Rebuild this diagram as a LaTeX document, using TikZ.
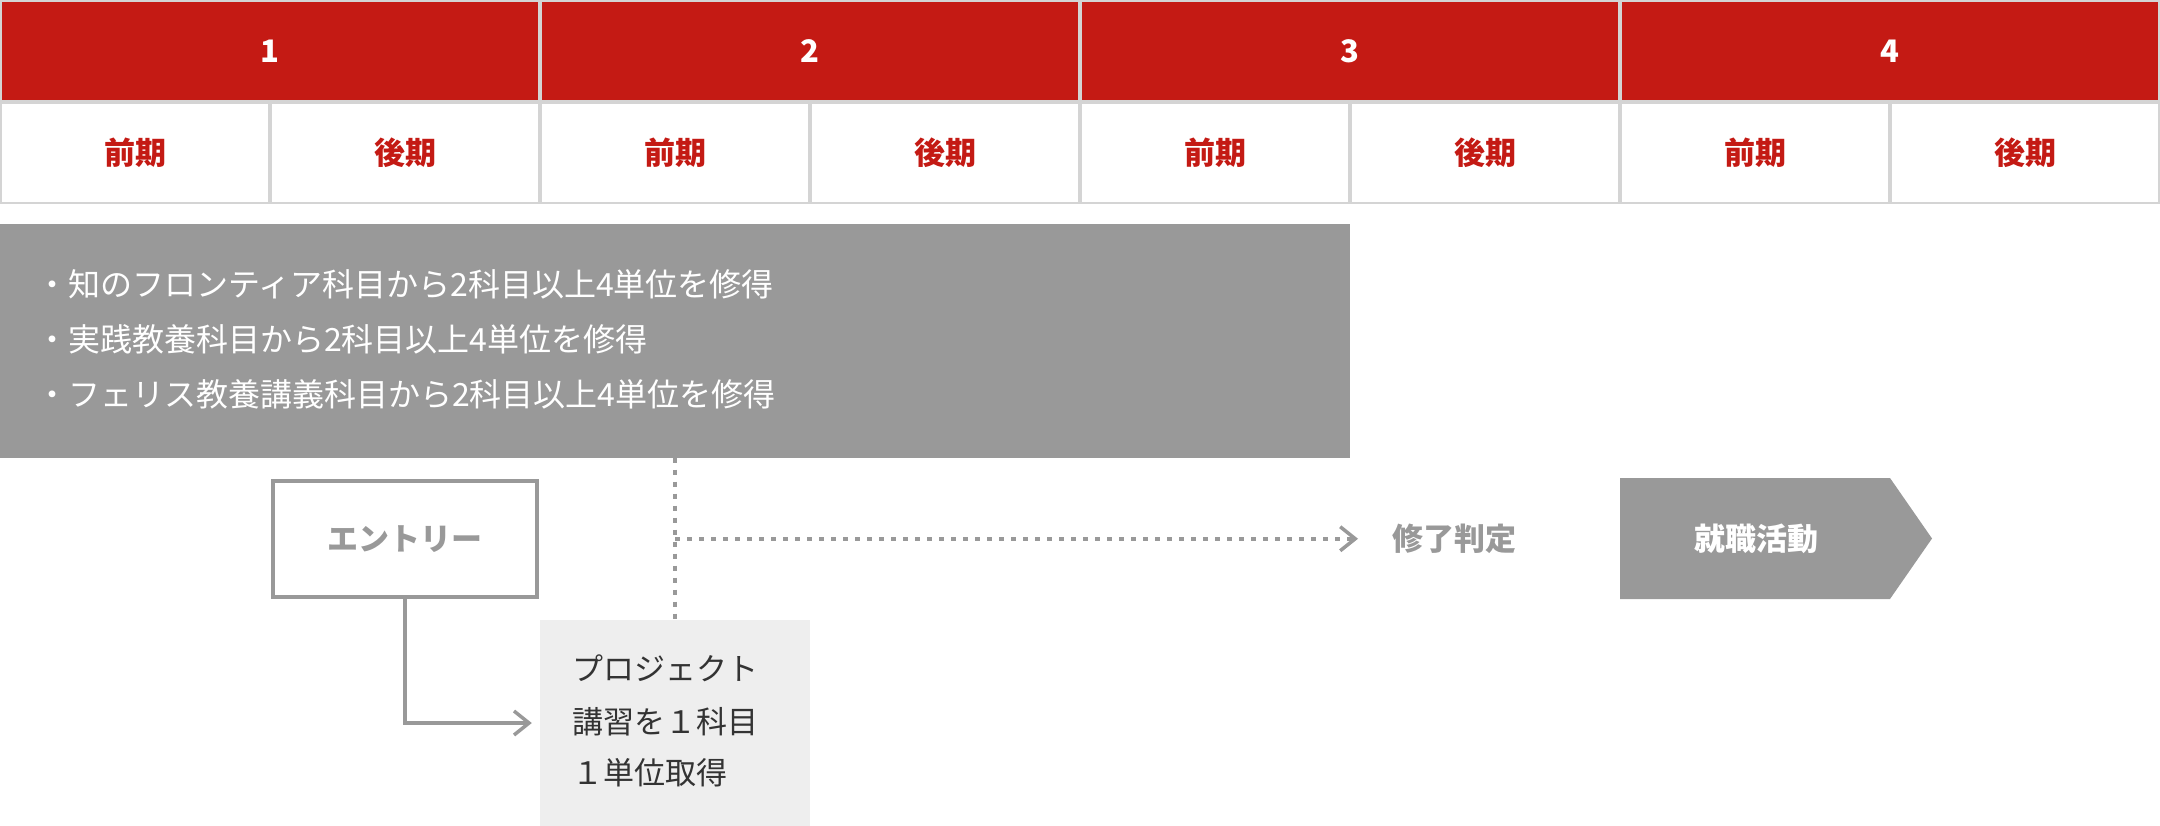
\documentclass[tikz,border=0pt]{standalone}
\usepackage{fontspec}
\setmainfont{Noto Sans CJK JP}
\usetikzlibrary{arrows.meta,calc}
\definecolor{hdrred}{HTML}{C41A14}
\definecolor{rulegray}{HTML}{D4D4D4}
\definecolor{midgray}{HTML}{999999}
\definecolor{pale}{HTML}{EEEEEE}
\definecolor{ink}{HTML}{333333}
\tikzset{
  txt/.style={font=\fontsize{31}{37}\selectfont, inner sep=0pt, text height=27.3pt, text depth=3.7pt},
  btxt/.style={txt, font=\fontsize{31}{37}\selectfont\bfseries},
  bodytxt/.style={txt, font=\fontsize{32}{38}\selectfont, text=white, anchor=west},
  yearcell/.style={btxt, fill=hdrred, text=white, minimum width=536, minimum height=98},
  semcell/.style={btxt, fill=white, text=hdrred, minimum width=266, minimum height=98},
  conn/.style={draw=midgray, line width=4pt},
  dashline/.style={draw=midgray, line width=3.5pt, dash pattern=on 5pt off 7pt},
  barb/.style={-{Straight Barb[length=15pt, width=24pt, line width=3.5pt]}},
}
\begin{document}
\begin{tikzpicture}[x=1pt, y=-1pt]
\useasboundingbox (0,0) rectangle (2160,826);
% table background rules
\fill[rulegray] (0,0) rectangle (2160,204);
% year header
\foreach \k in {0,1,2,3} {
  \pgfmathtruncatemacro{\num}{\k+1}
  \node[yearcell] (year\num) at (540*\k+270, 51) {\num};
}
% semester row
\foreach \j/\lab in {0/前期,1/後期,2/前期,3/後期,4/前期,5/後期,6/前期,7/後期} {
  \node[semcell] (sem\j) at (270*\j+135, 153) {\lab};
}
% requirement box
\node[fill=midgray, minimum width=1350, minimum height=233, inner sep=0pt] (req) at (675, 341) {};
\node[bodytxt] (r1) at (36, 285) {・知のフロンティア科目から2科目以上4単位を修得};
\node[bodytxt] (r2) at (36, 340) {・実践教養科目から2科目以上4単位を修得};
\node[bodytxt] (r3) at (36, 395) {・フェリス教養講義科目から2科目以上4単位を修得};
% entry box
\node[btxt, text=midgray, draw=midgray, line width=4pt, minimum width=264, minimum height=116] (entry) at (404.5, 539) {エントリー};
% project box
\node[fill=pale, minimum width=270, minimum height=206, inner sep=0pt] (project) at (675, 723) {};
\node[txt, text=ink, anchor=west] (p1) at (572, 669) {プロジェクト};
\node[txt, text=ink, anchor=west] (p2) at (572, 722) {講習を１科目};
\node[txt, text=ink, anchor=west] (p3) at (572, 773) {１単位取得};
% judge
\node[btxt, text=midgray, anchor=west] (judge) at (1392, 539) {修了判定};
% job hunting arrow shape
\fill[midgray] (1620,478) -- (1890,478) -- (1932,538.5) -- (1890,599) -- (1620,599) -- cycle;
\node[btxt, text=white] (job) at (1756, 539) {就職活動};
% connectors
\draw[conn, barb] (entry.south) |- ([xshift=-8pt]project.west);
\draw[dashline] (req.south) -- (project.north);
\coordinate (split) at ($(req.south)!0.5!(project.north)$);
\draw[dashline, barb, shorten >=34pt] (split) -- (split -| judge.west);
\end{tikzpicture}
\end{document}
